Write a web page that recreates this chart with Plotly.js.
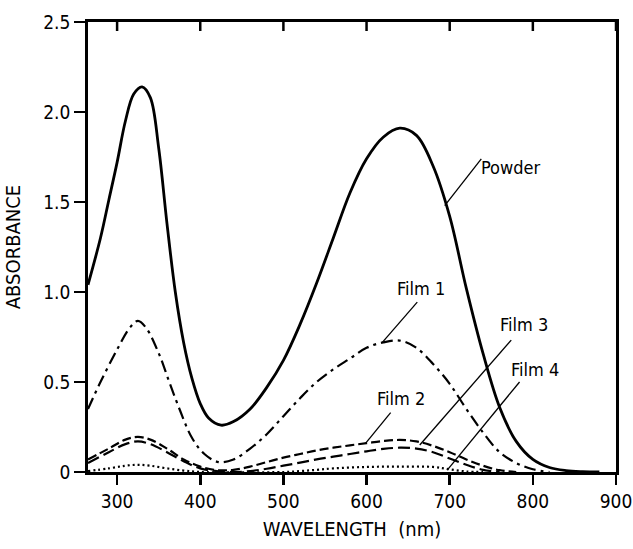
<!DOCTYPE html>
<html>
<head>
<meta charset="utf-8">
<script src="https://cdn.plot.ly/plotly-3.0.1.min.js"></script>
<style>html,body{margin:0;padding:0;background:#fff;}#chart{width:633px;height:549px;}</style>
</head>
<body>
<div id="chart"></div>
<script>
// ---- data ----
const powderWl = [265,280,290,300,310,320,330,340,350,360,370,380,390,400,410,425,440,460,480,500,520,540,560,580,600,620,640,660,680,700,720,740,760,780,800,820,840,860,880];
const powderAbs = [1.04,1.30,1.51,1.72,1.95,2.10,2.14,2.08,1.80,1.38,1.00,0.72,0.52,0.38,0.30,0.26,0.28,0.35,0.47,0.62,0.82,1.05,1.30,1.55,1.74,1.86,1.91,1.87,1.70,1.42,1.02,0.66,0.36,0.17,0.07,0.025,0.008,0.002,0];

const film1Wl = [265,280,300,315,325,335,350,362,375,390,405,422,440,460,480,500,520,540,560,580,600,620,640,660,680,700,720,740,760,780,800,820];
const film1Abs = [0.35,0.50,0.68,0.80,0.84,0.80,0.66,0.51,0.35,0.19,0.10,0.055,0.07,0.13,0.21,0.31,0.41,0.50,0.57,0.63,0.69,0.72,0.73,0.69,0.60,0.49,0.35,0.22,0.11,0.05,0.015,0];

const film2Wl = [265,290,310,325,340,360,380,400,420,440,460,480,500,520,540,560,580,600,620,640,660,680,700,720,740,760,780];
const film2Abs = [0.07,0.13,0.18,0.195,0.18,0.13,0.07,0.03,0.01,0.012,0.03,0.055,0.08,0.10,0.12,0.135,0.148,0.16,0.172,0.178,0.17,0.145,0.11,0.07,0.035,0.01,0];

const film3Wl = [265,290,310,325,340,360,380,400,420,440,460,480,500,520,540,560,580,600,620,640,660,680,700,720,740,760];
const film3Abs = [0.05,0.11,0.155,0.17,0.155,0.11,0.06,0.02,0.005,0,0.005,0.018,0.035,0.052,0.07,0.085,0.10,0.115,0.128,0.135,0.13,0.11,0.075,0.04,0.012,0];

const film4Wl = [265,290,310,325,340,360,380,400,500,520,540,560,600,640,680,700,720,740];
const film4Abs = [0.005,0.02,0.035,0.04,0.035,0.02,0.008,0,0,0.005,0.012,0.02,0.028,0.03,0.028,0.015,0.003,0];

const xTickVals = [300,400,500,600,700,800,900];
const xTickText = ['300','400','500','600','700','800','900'];
const yTickVals = [0,0.5,1.0,1.5,2.0,2.5];
const yTickText = ['0','0.5','1.0','1.5','2.0','2.5'];

const labelNames = ['Powder','Film 1','Film 2','Film 3','Film 4'];
const labelX = [774,666,642,789,803];
const labelY = [1.69,1.02,0.41,0.82,0.57];
const leaderFromX = [738,661,629,774,784];
const leaderFromY = [1.74,0.944,0.33,0.733,0.50];
const leaderToX = [694,619,599,664,697];
const leaderToY = [1.48,0.72,0.16,0.15,0.01];

// ---- chart ----
const FONT = 'Liberation Sans Narrow, DejaVu Sans Condensed, Arial Narrow, sans-serif';
function tr(x, y, dash, w) {
  return {x: x, y: y, type: 'scatter', mode: 'lines',
    line: {color: '#000', width: w, dash: dash, shape: 'spline', smoothing: 1},
    hoverinfo: 'skip', showlegend: false};
}
const traces = [
  tr(powderWl, powderAbs, 'solid', 2.8),
  tr(film1Wl, film1Abs, '12px,5px,3px,5px', 2.2),
  tr(film2Wl, film2Abs, '9px,4px', 2.2),
  tr(film3Wl, film3Abs, '12px,5px', 2.2),
  tr(film4Wl, film4Abs, '2px,3px', 2.2)
];

const annotations = labelNames.map((t, i) => ({
  x: labelX[i], y: labelY[i], xref: 'x', yref: 'y', text: t, showarrow: false,
  font: {family: FONT, size: 18, color: '#000'}
}));
const shapes = labelNames.map((t, i) => ({
  type: 'line', xref: 'x', yref: 'y',
  x0: leaderFromX[i], y0: leaderFromY[i], x1: leaderToX[i], y1: leaderToY[i],
  line: {color: '#000', width: 1.3}
}));
// inward tick marks along the top frame, at the same tick values as the bottom axis
xTickVals.forEach(v => shapes.push({
  type: 'line', xref: 'x', yref: 'paper', x0: v, x1: v, y0: 1, y1: 0.98,
  line: {color: '#000', width: 2.5}
}));

const layout = {
  width: 633, height: 549,
  margin: {l: 88, r: 17, t: 22, b: 77},
  paper_bgcolor: '#fff', plot_bgcolor: '#fff',
  font: {family: FONT, color: '#000', size: 18},
  showlegend: false,
  xaxis: {
    range: [265, 900], tickvals: xTickVals, ticktext: xTickText,
    ticks: 'outside', ticklen: 10, tickwidth: 2.5, tickcolor: '#000',
    ticklabeloverflow: 'allow',
    showline: true, linewidth: 2.8, linecolor: '#000', mirror: true,
    showgrid: false, zeroline: false,
    tickfont: {family: FONT, size: 19, color: '#000'},
    title: {text: 'WAVELENGTH  (nm)', font: {family: FONT, size: 20, color: '#000'}, standoff: 12}
  },
  yaxis: {
    range: [0, 2.5], tickvals: yTickVals, ticktext: yTickText,
    ticks: 'outside', ticklen: 11, tickwidth: 2.5, tickcolor: '#000',
    showline: true, linewidth: 2.8, linecolor: '#000', mirror: true,
    showgrid: false, zeroline: false,
    tickfont: {family: FONT, size: 19, color: '#000'},
    title: {text: 'ABSORBANCE', font: {family: FONT, size: 20, color: '#000'}, standoff: 18}
  },
  annotations: annotations,
  shapes: shapes
};

Plotly.newPlot('chart', traces, layout, {displayModeBar: false, staticPlot: true});
</script>
</body>
</html>
